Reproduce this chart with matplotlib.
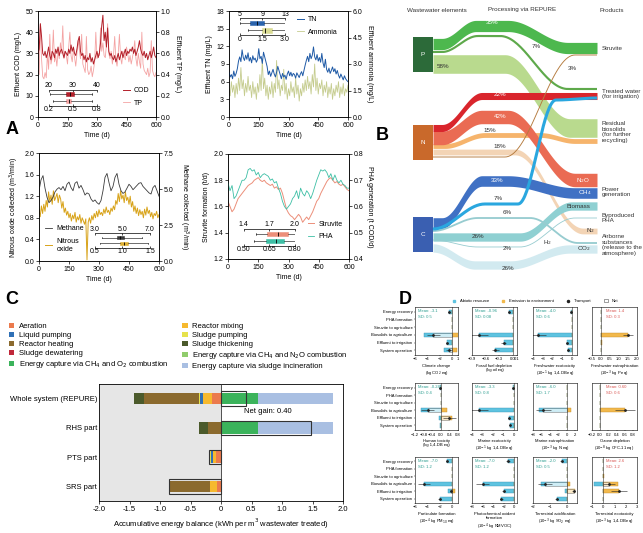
import numpy as np
import matplotlib
matplotlib.use("Agg")
import matplotlib.pyplot as plt
from matplotlib.patches import Patch, Rectangle
from matplotlib.lines import Line2D

plt.rcParams['font.family'] = ['Liberation Sans', 'DejaVu Sans']
plt.rcParams['font.size'] = 5
plt.rcParams['axes.linewidth'] = 0.6
for k in ['xtick', 'ytick']:
    plt.rcParams[k + '.major.width'] = 0.5
    plt.rcParams[k + '.major.size'] = 2
    plt.rcParams[k + '.major.pad'] = 1.5
    plt.rcParams[k + '.labelsize'] = 5

W, H = 643, 533

# ---------------- panel A data ----------------
cod = [30, 32, 44, 38, 30, 29, 31, 28, 30, 33, 29, 27, 31, 30, 28, 32, 30, 33, 29, 31,
       32, 30, 28, 31, 30, 29, 32, 30, 34, 31, 33, 30, 29, 32, 36, 38, 31, 29, 30, 27,
       29, 26, 28, 27, 30, 26, 28, 25, 27, 29, 31, 28, 30, 35, 43, 48, 36, 40, 33, 42,
       31, 29, 30, 28, 27, 29, 26, 28, 30, 27, 29, 31, 28, 30, 32, 29, 31, 30, 32, 31,
       33, 30, 32, 29, 31, 33, 36, 32, 30, 29, 31, 28, 30, 27, 29, 31, 28, 30, 33, 29, 28]
tp = [0.44, 0.40, 0.88, 0.55, 0.38, 0.36, 0.42, 0.37, 0.60, 0.45, 0.78, 0.50, 0.56, 0.82, 0.52,
      0.58, 0.48, 0.62, 0.55, 0.70, 0.60, 0.86, 0.55, 0.62, 0.58, 0.50, 0.66, 0.80, 0.58, 0.52,
      0.64, 0.56, 0.48, 0.60, 0.72, 0.64, 0.55, 0.78, 0.50, 0.46, 0.42, 0.76, 0.45, 0.40, 0.42,
      0.48, 0.38, 0.44, 0.52, 0.80, 0.55, 0.60, 0.58, 0.84, 0.62, 0.70, 0.58, 0.56, 0.68, 0.88,
      0.60, 0.55, 0.62, 0.50, 0.58, 0.76, 0.54, 0.48, 0.60, 0.78, 0.56, 0.50, 0.62, 0.58, 0.54,
      0.66, 0.60, 0.52, 0.58, 0.50, 0.56, 0.62, 0.72, 0.55, 0.48, 0.60, 0.52, 0.46, 0.80, 0.50,
      0.44, 0.42, 0.40, 0.46, 0.38, 0.42, 0.72, 0.44, 0.40, 0.38, 0.42]
tn = [7.6, 6.8, 7.2, 6.5, 7.8, 6.9, 7.4, 8.2, 9.5, 10.2, 9.4, 11.4, 10.1, 9.6, 10.5, 9.8, 10.9,
      9.5, 10.1, 9.2, 10.4, 9.7, 10.0, 9.3, 9.8, 11.6, 9.9, 10.3, 9.1, 11.0, 10.2, 9.4, 8.6, 7.2,
      7.8, 6.9, 7.5, 8.1, 7.3, 6.8, 7.6, 8.6, 7.9, 7.2, 6.5, 7.4, 6.8, 7.1, 6.4, 7.3, 7.8, 7.0,
      7.6, 6.9, 7.4, 7.2, 6.6, 7.5, 7.1, 6.7, 7.3, 7.7, 7.0, 7.9, 8.8, 9.6, 10.3, 9.4, 10.8, 9.9,
      10.5, 11.9, 10.2, 9.7, 10.6, 9.5, 10.1, 9.3, 10.8, 9.2, 8.4, 9.8, 8.1, 7.6, 8.3, 7.4, 7.9,
      8.5, 7.7, 8.2, 7.3, 7.9, 7.1, 6.6, 7.3, 6.8, 6.3, 7.0, 6.5, 6.2, 6.0]
ammonia = [1.6, 1.2, 2.0, 1.4, 1.8, 1.1, 1.9, 1.3, 2.2, 1.5, 2.8, 1.6, 2.1, 1.2, 1.9, 1.4, 2.3,
           1.5, 1.8, 1.1, 2.0, 1.3, 1.7, 1.0, 1.9, 1.4, 2.4, 1.5, 3.3, 1.6, 2.2, 1.2, 1.8, 1.0,
           1.7, 1.3, 2.0, 1.1, 1.9, 1.4, 3.2, 1.6, 2.1, 1.2, 1.8, 1.5, 2.7, 1.3, 1.9, 1.0, 1.6,
           1.2, 2.0, 1.4, 1.7, 1.1, 2.2, 1.3, 1.8, 0.9, 1.6, 1.2, 1.9, 1.4, 2.1, 1.5, 2.3, 1.6,
           2.0, 1.3, 2.4, 1.7, 3.0, 1.5, 2.2, 1.3, 1.9, 1.6, 2.1, 1.2, 1.8, 1.4, 2.0, 1.1, 1.7,
           1.3, 1.9, 1.0, 1.6, 1.2, 1.8, 1.4, 2.0, 1.1, 1.7, 1.3, 1.9, 1.2, 1.6, 1.4, 1.8]
methane = [4.88, 5.63, 5.93, 5.06, 4.43, 4.05, 4.20, 4.43, 4.80, 4.99, 5.10, 4.95, 5.18, 4.88,
           5.33, 5.48, 5.10, 4.88, 5.40, 5.51, 5.06, 5.25, 4.95, 4.58, 4.73, 4.65, 4.31, 4.13,
           4.24, 4.05, 3.94, 4.20, 4.88, 5.81, 6.08, 5.44, 4.88, 5.18, 5.81, 6.08, 5.33, 4.88,
           4.69, 4.80, 5.06, 5.33, 5.18, 4.95, 5.10, 5.25, 5.40, 5.44, 5.18, 5.03, 4.88, 4.73,
           4.65, 5.10, 5.25, 4.88, 4.50]
n2o = [0.95, 0.82, 1.02, 0.88, 1.05, 0.92, 1.12, 1.00, 1.28, 1.10, 1.22, 1.05, 1.30, 1.12, 1.18,
       1.25, 1.08, 1.22, 1.15, 0.98, 1.10, 0.90, 0.98, 0.85, 0.92, 0.80, 0.88, 0.74, 0.85, 0.78,
       0.90, 0.72, 0.82, 0.76, 0.86, 0.70, 0.80, 0.74, 0.68, 0.78, 0.02, 0.72, 0.80, 0.70, 0.84,
       0.76, 0.88, 0.80, 0.92, 0.82, 0.95, 0.86, 0.90, 0.84, 0.96, 0.88, 1.00, 0.90, 0.94, 0.86,
       0.98, 0.92, 1.02, 0.95, 1.12, 1.05, 1.25, 1.10, 1.30, 1.15, 1.22, 1.08, 1.28, 1.12, 1.18,
       1.05, 1.20, 1.00, 1.10, 0.92, 1.02, 0.88, 0.98, 0.84, 0.95, 0.86, 0.92, 0.80, 0.96, 0.85,
       1.00, 0.88, 0.94, 0.82, 0.90, 0.78, 0.88, 0.84, 0.92, 0.80, 0.86]
struvite = [1.64, 1.60, 1.56, 1.58, 1.62, 1.66, 1.68, 1.70, 1.72, 1.74, 1.76, 1.77, 1.78, 1.80,
            1.81, 1.82, 1.80, 1.79, 1.80, 1.78, 1.77, 1.76, 1.77, 1.74, 1.75, 1.73, 1.74, 1.70,
            1.64, 1.58, 1.55, 1.53, 1.52, 1.50, 1.52, 1.54, 1.52, 1.48, 1.50, 1.52, 1.50, 1.53,
            1.56, 1.60, 1.64, 1.66, 1.70, 1.73, 1.76, 1.79, 1.81, 1.82, 1.80, 1.78, 1.79, 1.77,
            1.76, 1.77, 1.75, 1.73, 1.72]
pha = [0.69, 0.66, 0.68, 0.63, 0.64, 0.66, 0.68, 0.70, 0.70, 0.71, 0.74, 0.745, 0.735, 0.74,
       0.72, 0.73, 0.71, 0.72, 0.725, 0.72, 0.715, 0.70, 0.705, 0.69, 0.695, 0.67, 0.65, 0.62,
       0.60, 0.59, 0.60, 0.61, 0.63, 0.64, 0.66, 0.63, 0.67, 0.65, 0.64, 0.66, 0.65, 0.63, 0.65,
       0.675, 0.70, 0.72, 0.74, 0.735, 0.74, 0.73, 0.71, 0.725, 0.70, 0.72, 0.70, 0.69, 0.70,
       0.685, 0.68, 0.67, 0.67]

# box stats: whisker low, q1, median, q3, whisker high
box_cod = [20.5, 27.0, 29.0, 30.5, 38.0]
box_tp = [0.26, 0.41, 0.45, 0.48, 0.74]
box_tn = [5.0, 6.8, 8.0, 9.3, 13.0]
box_ammonia = [0.55, 1.45, 1.7, 2.15, 3.0]
box_methane = [3.5, 4.6, 4.85, 5.1, 6.4]
box_n2o = [0.59, 0.95, 1.02, 1.10, 1.47]
box_struvite = [1.55, 1.67, 1.80, 1.92, 2.0]
box_pha = [0.56, 0.634, 0.69, 0.74, 0.80]

# inset tick labels
ticks_cod = ['20', '30', '40']
ticks_tp = ['0.2', '0.5', '0.8']
ticks_tn = ['5', '9', '13']
ticks_ammonia = ['0', '1.5', '3.0']
ticks_methane = ['3.0', '5.0', '7.0']
ticks_n2o = ['0.5', '1.0', '1.5']
ticks_struvite = ['1.4', '1.7', '2.0']
ticks_pha = ['0.50', '0.65', '0.80']

# ---------------- panel B data ----------------
flow_pct = [35, 7, 58, 22, 42, 15, 18, 3, 33, 7, 6, 26, 2, 26]
flow_colors = ['#4db84e', '#5ea94b', '#b9da8e', '#d9252c', '#ea6b53', '#f6b46c', '#f3d4b5',
               '#b57b3e', '#4071c4', '#2aa7df', '#97ccd0', '#8fd0d2', '#97ccd0', '#d2eaf0']
elements = ['P', 'N', 'C']
element_colors = ['#2c6a39', '#c9692b', '#3a5fb1']
products = ['Struvite', 'Treated water\n(for irrigation)',
            'Residual\nbiosolids\n(for further\nrecycling)', 'Power\ngeneration',
            'Byproduced\nPHA', 'Airborne\nsubstances\n(release to the\natmosphere)']

# ---------------- panel C data ----------------
c_rows = ['Whole system (REPURE)', 'RHS part', 'PTS part', 'SRS part']
c_items = ['Aeration', 'Reactor mixing', 'Liquid pumping', 'Sludge pumping',
           'Sludge dewatering', 'Reactor heating', 'Sludge thickening',
           'Energy capture via CH$_4$ and O$_2$ combustion',
           'Energy capture via CH$_4$ and N$_2$O combustion',
           'Energy capture via sludge incineration']
c_colors = ['#eb7a4d', '#f6b92e', '#2f70b6', '#e6e24c', '#c0283a', '#8b6a2e', '#4b5a2b',
            '#3bb35b', '#90cc6c', '#a9bfe2']
c_values = [
    [-0.14, 0.0, -0.08, -0.06],
    [-0.15, 0.0, -0.05, -0.12],
    [-0.05, 0.0, -0.04, 0.0],
    [-0.02, 0.0, -0.02, 0.0],
    [0.0, 0.0, 0.0, 0.0],
    [-0.91, -0.22, 0.0, -0.68],
    [-0.15, -0.14, 0.0, 0.0],
    [0.60, 0.60, 0.0, 0.0],
    [0.0, 0.0, 0.0, 0.0],
    [1.23, 1.23, 0.0, 0.0],
]

# ---------------- panel D data ----------------
d_stages = ['Energy recovery', 'PHA formation', 'Struvite to agriculture',
            'Biosolids to agriculture', 'Effluent to irrigation', 'System operation']
d_names = ['Climate change\n(kg CO$_2$ eq)', 'Fossil fuel depletion\n(kg oil eq)',
           'Freshwater ecotoxicity\n(10$^{-1}$ kg 1,4-DB eq)',
           'Freshwater eutrophication\n(10$^{-3}$ kg P eq)',
           'Human toxicity\n(kg 1,4-DB eq)', 'Marine ecotoxicity\n(10$^{-1}$ kg 1,4-DB eq)',
           'Marine eutrophication\n(10$^{-3}$ kg N eq)', 'Ozone depletion\n(10$^{-8}$ kg CFC-11 eq)',
           'Particulate formation\n(10$^{-4}$ kg PM$_{10}$ eq)',
           'Photochemical oxidant\nformation\n(10$^{-4}$ kg NMVOC)',
           'Terrestrial acidification\n(10$^{-3}$ kg SO$_2$ eq)',
           'Terrestrial ecotoxicity\n(10$^{-3}$ kg 1,4-DB eq)']
d_means = ['-3.1', '-0.96', '-4.0', '1.4', '-0.24', '-3.3', '-6.0', '0.60',
           '-7.0', '-7.0', '-2.0', '2.6']
d_sds = ['0.5', '0.08', '0.6', '0.3', '0.4', '0.8', '1.7', '0.6', '1.2', '1.2', '0.5', '1.2']
d_xlims = [(-6, 1), (-0.9, 0.1), (-4, 0.5), (-0.5, 2.0), (-1.2, 0.8), (-4, 0.3), (-8, 2.5),
           (-0.2, 0.9), (-6, 1), (-8, 0.5), (-2, 0.6), (-1, 3)]
d_xticks = [[-6, -4, -2, 0, 1], [-0.9, -0.6, -0.3, 0, 0.1], [-4, -3, -2, -1, 0],
            [-0.5, 0, 0.5, 1.0, 1.5, 2.0], [-1.2, -0.8, -0.4, 0, 0.4, 0.8], [-4, -3, -2, -1, 0],
            [-8, -6, -4, -2, 0, 2], [-0.2, 0, 0.2, 0.4, 0.6, 0.8], [-6, -4, -2, 0],
            [-8, -6, -4, -2, 0], [-2, -1, 0], [-1, 0, 1, 2, 3]]
d_abiotic = [[-0.5, 0, 0, -4.5, -0.8, -1.2], [-0.07, 0, 0, -0.75, -0.2, -0.38],
             [-0.1, 0, 0, -3.5, -0.5, -0.4], [0, 0, 0, 0, 0, 0],
             [-0.05, 0, 0, -0.9, -0.1, -0.05], [-0.05, 0, 0, -3.3, -0.5, -0.4],
             [0, 0, 0, -6.5, 0, 0], [0, 0, 0, 0, 0, 0],
             [-0.8, 0, 0, -4.5, -0.6, -2.0], [-1.2, 0, 0, -6.0, -2.0, -2.5],
             [-0.3, 0, 0, -1.5, -0.1, -0.6], [0, 0, 0, -0.8, 0, 0]]
d_emission = [[0, 0, 0, 1.5, 0, 0.8], [0, 0, 0, 0, 0, 0], [0, 0, 0, 0, 0, 0],
              [0, 0, 0, 1.5, 0.05, 0], [0, 0, 0, 0.3, 0.5, 0], [0, 0, 0, 0, 0, 0],
              [0, 0, 0, 1.0, 0, 0], [0, 0, 0, 0.6, 0, 0], [0, 0, 0, 0, 0.5, 0],
              [0, 0, 0, 0, 0, 0], [0, 0, 0, 0.2, 0.5, 0], [0, 0, 0.05, 1.3, 1.4, 0]]
d_err = [[0.2, 0, 0, 1.0, 0.2, 0.5], [0.02, 0, 0, 0.2, 0.05, 0.08], [0.05, 0, 0, 0.8, 0.1, 0.1],
         [0, 0, 0, 0.3, 0, 0], [0.05, 0, 0, 0.3, 0.3, 0], [0.05, 0, 0, 0.8, 0.1, 0.1],
         [0, 0, 0, 1.7, 0, 0], [0, 0, 0, 0.25, 0, 0], [0.2, 0, 0, 1.0, 0.2, 0.3],
         [0.3, 0, 0, 1.2, 0.3, 0.3], [0.1, 0, 0, 0.4, 0.1, 0.1], [0, 0, 0, 0.5, 0.7, 0]]


def rect(x0, y0, x1, y1):
    return [x0 / W, 1 - y1 / H, (x1 - x0) / W, (y1 - y0) / H]


fig = plt.figure(figsize=(W / 100, H / 100), dpi=100)


def inset_box(ax, bounds, top, bot, top_lbl, bot_lbl, top_color, bot_color):
    top_ticks = [float(v) for v in top_lbl]
    bot_ticks = [float(v) for v in bot_lbl]
    ins = ax.inset_axes(bounds)
    ins2 = ins.twiny()
    ins.set_xlim(top_ticks[0], top_ticks[-1])
    ins.set_ylim(0.3, 2.7)
    ins.patch.set_alpha(0)
    ins2.patch.set_alpha(0)
    ins2.set_xlim(bot_ticks[0], bot_ticks[-1])
    for s in ['left', 'right', 'bottom']:
        ins.spines[s].set_visible(False)
    for s in ['left', 'right', 'top']:
        ins2.spines[s].set_visible(False)
    ins.spines['top'].set_visible(True)
    ins.spines['top'].set_linewidth(0.5)
    ins2.spines['bottom'].set_visible(True)
    ins2.spines['bottom'].set_linewidth(0.5)
    ins.xaxis.set_ticks_position('top')
    ins.xaxis.set_label_position('top')
    ins2.xaxis.set_ticks_position('bottom')
    ins2.xaxis.set_label_position('bottom')
    ins.set_xticks(top_ticks)
    ins.set_xticklabels(top_lbl)
    ins2.set_xticks(bot_ticks)
    ins2.set_xticklabels(bot_lbl)
    ins.set_yticks([])
    ins.tick_params(axis='x', length=1.5, pad=0.5, direction='in')
    ins2.tick_params(axis='x', length=1.5, pad=0.5, direction='in')
    for a, st, pos, col in [(ins, top, 2, top_color), (ins2, bot, 1, bot_color)]:
        stats = [dict(whislo=st[0], q1=st[1], med=st[2], q3=st[3], whishi=st[4], fliers=[])]
        a.bxp(stats, positions=[pos], widths=0.6, orientation='horizontal', patch_artist=True,
              boxprops=dict(facecolor=col, edgecolor=col, lw=0.4),
              whiskerprops=dict(lw=0.4), capprops=dict(lw=0.4),
              medianprops=dict(color='k', lw=0.6), manage_ticks=False)


def ts_panel(box, left, right, lcol, rcol, llim, rlim, lticks, rticks, llab, rlab, right_on_top):
    ax = fig.add_axes(rect(*box))
    ax2 = ax.twinx()
    t_l = np.linspace(0, 600, len(left))
    t_r = np.linspace(0, 600, len(right))
    ln_l, = ax.plot(t_l, left, color=lcol, lw=0.7)
    ln_r, = ax2.plot(t_r, right, color=rcol, lw=0.6)
    if not right_on_top:
        ax.set_zorder(ax2.get_zorder() + 1)
        ax.patch.set_visible(False)
    ax.set_xlim(0, 600)
    ax.set_xticks([0, 150, 300, 450, 600])
    ax.set_ylim(*llim)
    ax.set_yticks(lticks)
    ax2.set_ylim(*rlim)
    ax2.set_yticks(rticks)
    ax.set_xlabel('Time (d)', labelpad=2)
    ax.set_ylabel(llab, labelpad=2)
    ax2.set_ylabel(rlab, rotation=270, va='bottom', labelpad=2)
    for a in (ax, ax2):
        for s in a.spines.values():
            s.set_linewidth(0.5)
    return ax, ax2, ln_l, ln_r


leg_kw = dict(frameon=False, fontsize=5, handlelength=1.0, labelspacing=0.8, handletextpad=0.6)

# A1
ax, ax2, l1, l2 = ts_panel((38, 11, 156, 117), cod, tp, '#b3202a', '#f4a3a3', (0, 50), (0, 1.0),
                           [0, 10, 20, 30, 40, 50], [0.0, 0.2, 0.4, 0.6, 0.8, 1.0],
                           'Effluent COD (mg/L)', 'Effluent TP (mg/L)', False)
ax2.set_yticklabels(['0.0', '0.2', '0.4', '0.6', '0.8', '1.0'])
inset_box(ax, [0.09, 0.107, 0.41, 0.15], box_cod, box_tp, ticks_cod, ticks_tp,
          '#b3202a', '#f4a3a3')
ax.legend([l1, l2], ['COD', 'TP'], loc='lower right', bbox_to_anchor=(1.0, 0.04), **leg_kw)

# A2
ax, ax2, l1, l2 = ts_panel((229, 11, 348, 117), tn, ammonia, '#1f5aa6', '#c5cc8e', (0, 18), (0, 6.0),
                           [0, 3, 6, 9, 12, 15, 18], [0.0, 1.5, 3.0, 4.5, 6.0],
                           'Effluent TN (mg/L)', 'Effluent ammonia (mg/L)', False)
ax2.set_yticklabels(['0.0', '1.5', '3.0', '4.5', '6.0'])
inset_box(ax, [0.09, 0.77, 0.38, 0.16], box_tn, box_ammonia, ticks_tn, ticks_ammonia,
          '#2a63ad', '#d9db93')
ax.legend([l1, l2], ['TN', 'Ammonia'], loc='upper left', bbox_to_anchor=(0.52, 1.01), **leg_kw)

# A3
ax, ax2, l1, l2 = ts_panel((39, 153, 159, 261), n2o, methane, '#d8a31a', '#3a3a3a', (0, 2.0), (0, 7.5),
                           [0.0, 0.4, 0.8, 1.2, 1.6, 2.0], [0.0, 2.5, 5.0, 7.5],
                           'Nitrous oxide collected (m$^3$/min)', 'Methane collected (m$^3$/min)', True)
ax.set_yticklabels(['0.0', '0.4', '0.8', '1.2', '1.6', '2.0'])
ax2.set_yticklabels(['0.0', '2.5', '5.0', '7.5'])
inset_box(ax, [0.465, 0.124, 0.46, 0.131], box_methane, box_n2o, ticks_methane, ticks_n2o,
          '#3a3a3a', '#e0b030')
ax.legend([l2, l1], ['Methane', 'Nitrous\noxide'], loc='lower left', bbox_to_anchor=(0.0, 0.02),
          **leg_kw)

# A4
ax, ax2, l1, l2 = ts_panel((228, 154, 349, 259), struvite, pha, '#ec8f7a', '#3dbfa5', (1.2, 2.0), (0.4, 0.8),
                           [1.2, 1.4, 1.6, 1.8, 2.0], [0.4, 0.5, 0.6, 0.7, 0.8],
                           'Struvite formation (t/d)', 'PHA generation (t COD/d)', True)
inset_box(ax, [0.13, 0.127, 0.42, 0.158], box_struvite, box_pha, ticks_struvite, ticks_pha,
          '#ec8f7a', '#3dbfa5')
ax.legend([l1, l2], ['Struvite', 'PHA'], loc='lower right', bbox_to_anchor=(1.0, 0.12), **leg_kw)

# ---------------- overlay for panel B and letters ----------------
ov = fig.add_axes([0, 0, 1, 1], zorder=-1)
ov.set_xlim(0, W)
ov.set_ylim(H, 0)
ov.axis('off')


def path_xy(points, n=40):
    xs, ys = [], []
    for (x0, y0), (x1, y1) in zip(points[:-1], points[1:]):
        t = np.linspace(0, 1, n)
        s = (1 - np.cos(np.pi * t)) / 2
        xs.append(x0 + (x1 - x0) * t)
        ys.append(y0 + (y1 - y0) * s)
    return np.concatenate(xs), np.concatenate(ys)


# waypoints (pixel layout) for each flow, same order as flow_pct
flow_paths = [
    [(433, 44), (442, 44), (476, 26), (508, 26), (568, 48), (597, 48)],
    [(433, 52), (442, 52), (478, 36), (500, 36), (568, 89), (597, 89)],
    [(433, 64), (505, 64), (570, 128), (597, 128)],
    [(433, 128), (442, 128), (482, 96), (597, 96)],
    [(433, 138), (442, 138), (482, 117), (508, 117), (575, 180), (597, 180)],
    [(433, 146), (445, 146), (485, 135), (540, 135), (575, 141), (597, 141)],
    [(433, 152), (515, 152), (583, 231), (597, 231)],
    [(433, 157), (505, 157), (575, 55), (597, 55)],
    [(433, 223), (442, 223), (482, 181), (508, 181), (575, 193), (597, 193)],
    [(433, 229), (485, 204), (518, 204), (556, 100), (597, 98)],
    [(433, 231), (478, 218), (530, 218), (578, 243), (597, 243)],
    [(433, 237), (520, 237), (572, 206), (597, 206)],
    [(433, 240), (478, 247), (520, 247), (575, 218), (597, 218)],
    [(433, 248), (475, 265), (510, 265), (570, 249), (597, 249)],
]
draw_order = [2, 0, 6, 5, 4, 3, 13, 11, 8, 1, 7, 10, 12, 9]
for i in draw_order:
    xs, ys = path_xy(flow_paths[i])
    pct = flow_pct[i]
    if pct >= 10:
        w = pct * 0.32
        ov.fill_between(xs, ys - w / 2, ys + w / 2, color=flow_colors[i], lw=0)
    else:
        lw = 2.2 if flow_colors[i] == '#2aa7df' else max(pct * 0.22, 0.6)
        ov.plot(xs, ys, color=flow_colors[i], lw=lw, solid_capstyle='butt')

label_pos = [(492, 22, 'w'), (536, 47, 'k'), (443, 66, 'k'), (500, 95, 'w'), (500, 117, 'w'),
             (490, 130, 'k'), (500, 146, 'k'), (572, 69, 'k'), (497, 181, 'w'), (498, 199, 'k'),
             (507, 212, 'k'), (478, 237, 'k'), (507, 249, 'k'), (508, 268, 'k')]
for (x, y, c), pct in zip(label_pos, flow_pct):
    ov.text(x, y, f'{pct}%', color='white' if c == 'w' else '#333333', fontsize=4.5,
            ha='center', va='center')

node_box = [(37, 72), (125, 160), (217, 252)]
for name, col, (y0, y1) in zip(elements, element_colors, node_box):
    ov.add_patch(Rectangle((413, y0), 20, y1 - y0, color=col, lw=0))
    ov.text(423, (y0 + y1) / 2, name, color='white', fontsize=4.5, ha='center', va='center')

prod_y = [48, 94, 132, 192, 218, 245]
for name, y in zip(products, prod_y):
    ov.text(602, y, name, fontsize=4.5, ha='left', va='center', color='#333333', linespacing=1.1)
for txt, x, y, c in [('N$_2$O', 583, 181, 'white'), ('CH$_4$', 585, 193, 'white'),
                     ('Biomass', 578, 206, '#333333'), ('N$_2$', 590, 231, '#333333'),
                     ('H$_2$', 547, 243, '#333333'), ('CO$_2$', 584, 249, '#333333')]:
    ov.text(x, y, txt, fontsize=4.5, ha='center', va='center', color=c)
for txt, x in [('Wastewater elements', 437), ('Processing via REPURE', 522), ('Products', 612)]:
    ov.text(x, 10, txt, fontsize=4.5, ha='center', va='center', color='#333333')

for txt, x, y in [('A', 12, 130), ('B', 382, 135), ('C', 12, 300), ('D', 405, 300)]:
    ov.text(x, y, txt, fontsize=13, fontweight='bold', ha='center', va='center')

# ---------------- panel C ----------------
axc = fig.add_axes(rect(99, 384, 343, 501))
axc.axvspan(-2, 0, color='#e6e6e6', zorder=0, lw=0)
ypos = np.arange(len(c_rows))[::-1]
neg = np.zeros(len(c_rows))
pos = np.zeros(len(c_rows))
for name, vals, col in zip(c_items, c_values, c_colors):
    v = np.array(vals)
    if (v <= 0).all():
        axc.barh(ypos, v, left=neg, height=0.4, color=col, lw=0, zorder=2)
        neg += v
    else:
        axc.barh(ypos, v, left=pos, height=0.4, color=col, lw=0, zorder=2)
        pos += v
net = neg + pos
axc.barh(ypos, net, height=0.5, facecolor='none', edgecolor='#333333', lw=0.8, zorder=3)
axc.axvline(0, color='#333333', lw=0.6, zorder=4)
axc.text(0.38, 2.55, 'Net gain: 0.40', fontsize=5.5, va='center')
axc.set_xlim(-2, 2)
axc.set_ylim(-0.5, 3.5)
axc.set_yticks(ypos)
axc.set_yticklabels(c_rows, fontsize=5.5)
axc.tick_params(axis='y', length=0)
axc.set_xticks(np.arange(-2, 2.01, 0.5))
axc.set_xticklabels(['-2.0', '-1.5', '-1.0', '-0.5', '0', '0.5', '1.0', '1.5', '2.0'], fontsize=5.5)
axc.set_xlabel('Accumulative energy balance (kWh per m$^3$ wastewater treated)', fontsize=5.5,
               labelpad=3)
for s in axc.spines.values():
    s.set_linewidth(0.6)

handles = [Patch(facecolor=c, edgecolor='none') for c in c_colors]
order = [0, 2, 5, 4, 7, 1, 3, 6, 8, 9]
fig.legend([handles[i] for i in order], [c_items[i] for i in order], ncol=2, frameon=False,
           fontsize=5.5, loc='upper left', bbox_to_anchor=(2 / W, 1 - 316 / H),
           handlelength=0.7, handleheight=0.7, handletextpad=0.6, labelspacing=0.22,
           columnspacing=1.8)

# ---------------- panel D ----------------
cols_x = [(415, 458), (472, 517), (533, 577), (592, 637)]
rows_y = [(307, 355), (383, 430), (457, 503)]
for k in range(12):
    r, c = divmod(k, 4)
    axd = fig.add_axes(rect(cols_x[c][0], rows_y[r][0], cols_x[c][1], rows_y[r][1]))
    yy = np.arange(6)[::-1]
    ab = np.array(d_abiotic[k])
    em = np.array(d_emission[k])
    axd.barh(yy, ab, height=0.55, color='#5ec3e0', edgecolor='#3a94b5', lw=0.3)
    axd.barh(yy, em, height=0.55, color='#f2b94c', edgecolor='#c48d2c', lw=0.3)
    nt = ab + em
    both = (ab != 0) & (em != 0)
    axd.barh(yy[both], nt[both], height=0.55, facecolor='white', edgecolor='#555555', lw=0.4,
             alpha=0.7)
    for yi, n, e in zip(yy, nt, d_err[k]):
        if e > 0:
            axd.errorbar(n, yi, xerr=e, fmt='o', ms=1, color='#222222', lw=0.4, capsize=0)
    axd.axvline(0, color='#333333', lw=0.4)
    axd.set_xlim(*d_xlims[k])
    axd.set_ylim(-0.6, 5.6)
    axd.set_xticks(d_xticks[k])
    axd.tick_params(axis='both', labelsize=3, length=1, pad=0.8, width=0.3)
    axd.set_yticks(yy)
    if c == 0:
        axd.set_yticklabels(d_stages, fontsize=3)
    else:
        axd.set_yticklabels([])
        axd.tick_params(axis='y', length=0)
    for s in axd.spines.values():
        s.set_linewidth(0.4)
    tcol = '#d9534f' if float(d_means[k]) > 0 else '#2a9d8f'
    tx = 0.3 if float(d_means[k]) > 0 else 0.06
    axd.text(tx, 0.95, f'Mean: {d_means[k]}\nSD: {d_sds[k]}', transform=axd.transAxes,
             fontsize=3, color=tcol, va='top', linespacing=1.5)
    axd.set_xlabel(d_names[k], fontsize=3, labelpad=1.5, linespacing=1.2)

d_handles = [Line2D([], [], marker='s', ls='none', color='#5ec3e0', ms=2),
             Line2D([], [], marker='s', ls='none', color='#f2b94c', ms=2),
             Line2D([], [], marker='o', ls='none', color='#222222', ms=1.5),
             Patch(facecolor='white', edgecolor='#555555', lw=0.4)]
fig.legend(d_handles, ['Abiotic resource', 'Emission to environment', 'Transport', 'Net'],
           ncol=4, frameon=False, fontsize=3, loc='center', bbox_to_anchor=(535 / W, 1 - 301 / H),
           handlelength=1, handleheight=0.8, columnspacing=3)

fig.savefig('out.png', dpi=100)
